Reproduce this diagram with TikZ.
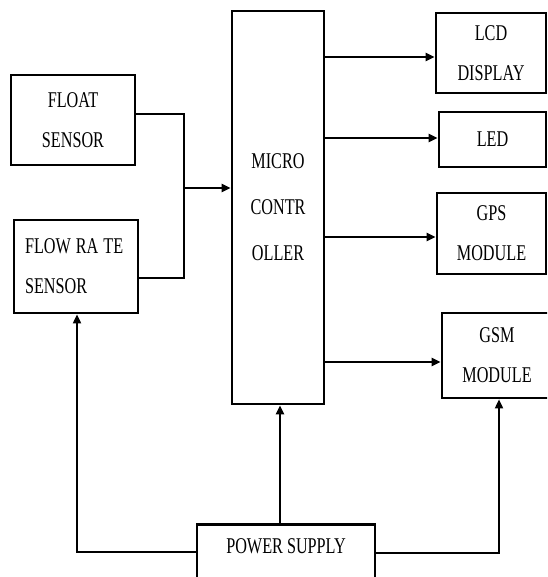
\documentclass[tikz,border=0pt]{standalone}
\usepackage{fontspec}
\setmainfont[FakeStretch=0.72]{Liberation Serif}
\usetikzlibrary{arrows.meta}
\begin{document}
\begin{tikzpicture}[x=1pt,y=-1pt,
  blk/.style={draw,line width=2.7pt,rectangle,inner sep=0pt,align=center,
    font=\fontsize{22.5}{40}\selectfont},
  mainline/.style={line width=2.5pt},
  mainarr/.style={line width=2.5pt,-{Triangle[length=9pt,width=8pt]}},
  thinline/.style={line width=1.5pt},
  thinarr/.style={line width=1.8pt,-{Triangle[length=9pt,width=8pt]}}]
\useasboundingbox (0,0) rectangle (547,577);
\clip (0,0) rectangle (547,577);

\node[blk,minimum width=124pt,minimum height=93pt,text width=102pt,align=left] (flow) at (76,266.5) {\spaceskip=5pt\mbox{FLOW RA TE}\\SENSOR};
\node[blk,minimum width=124pt,minimum height=90pt] (float) at (73,120) {FLOAT\\SENSOR};
\node[blk,minimum width=92pt,minimum height=393pt,font=\fontsize{22.5}{46}\selectfont] (micro) at (278,207.5) {MICRO\\CONTR\\OLLER};
\node[blk,minimum width=110pt,minimum height=80pt] (lcd) at (491,53) {LCD\\DISPLAY};
\node[blk,minimum width=107pt,minimum height=55pt] (led) at (492.5,139.5) {LED};
\node[blk,minimum width=109pt,minimum height=81pt] (gps) at (491.5,233.5) {GPS\\MODULE};
\node[blk,minimum width=110pt,minimum height=85pt] (gsm) at (497,355.5) {GSM\\MODULE};
\node[blk,anchor=north,minimum width=178pt,text height=15pt,text depth=50pt,inner ysep=14pt] (power) at (286,523) {POWER SUPPLY};

\coordinate (fa) at (184,114);
\coordinate (jn) at (184,188);
\coordinate (fb) at (184,278);
\draw[mainline] (float.east |- fa) -- (fa) -- (jn);
\draw[thinline] (flow.east |- fb) -- (fb) -- (jn);
\draw[mainarr] (jn) -- (jn -| micro.west);

\coordinate (ya) at (0,57);
\coordinate (yb) at (0,138);
\coordinate (yc) at (0,237);
\coordinate (yd) at (0,362);
\draw[mainarr] (micro.east |- ya) -- (lcd.west |- ya);
\draw[mainarr] (micro.east |- yb) -- (led.west |- yb);
\draw[mainarr] (micro.east |- yc) -- (gps.west |- yc);
\draw[mainarr] (micro.east |- yd) -- (gsm.west |- yd);

\coordinate (pc) at (280,0);
\draw[mainarr] (pc |- power.north) -- (pc |- micro.south);
\coordinate (pl) at (77,552);
\draw[thinarr] (power.west |- pl) -- (pl) -- (pl |- flow.south);
\coordinate (pr) at (499,553);
\draw[thinarr] (power.east |- pr) -- (pr) -- (pr |- gsm.south);
\end{tikzpicture}
\end{document}
